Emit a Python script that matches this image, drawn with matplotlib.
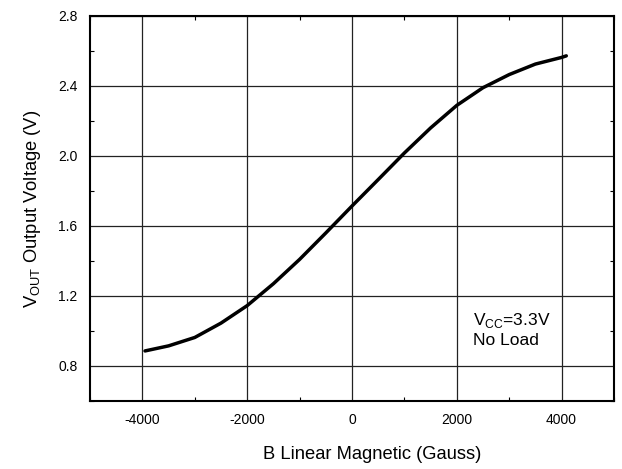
import numpy as np
import matplotlib
matplotlib.use('Agg')
import matplotlib.pyplot as plt
from matplotlib.ticker import MultipleLocator

plt.rcParams['font.family'] = ['Liberation Sans', 'DejaVu Sans']
plt.rcParams['mathtext.fontset'] = 'custom'
plt.rcParams['mathtext.rm'] = 'Liberation Sans'
plt.rcParams['axes.unicode_minus'] = False

# valores
b_gauss = [-3950, -3500, -3000, -2500, -2000, -1500, -1000, -500, 0,
           500, 1000, 1500, 2000, 2500, 3000, 3500, 4000, 4090]
v_out = [0.886, 0.915, 0.963, 1.045, 1.145, 1.27, 1.409, 1.56, 1.714,
         1.865, 2.017, 2.16, 2.289, 2.39, 2.465, 2.525, 2.563, 2.572]

x_ticks = [-4000, -2000, 0, 2000, 4000]
y_ticks = [0.8, 1.2, 1.6, 2.0, 2.4, 2.8]

fig = plt.figure(figsize=(6.22, 4.69), dpi=100)
ax = fig.add_axes([0.1447, 0.145, 0.8424, 0.821])

ax.plot(b_gauss, v_out, color='black', linewidth=2.5, solid_capstyle='round',
        solid_joinstyle='round')

ax.set_xlim(-5000, 5000)
ax.set_ylim(0.6, 2.8)
ax.set_xticks(x_ticks)
ax.set_yticks(y_ticks)
ax.set_yticklabels(['0.8', '1.2', '1.6', '2.0', '2.4', '2.8'])
ax.xaxis.set_minor_locator(MultipleLocator(1000))
ax.yaxis.set_minor_locator(MultipleLocator(0.2))

ax.grid(True, which='major', color='#222222', linewidth=0.9)
ax.tick_params(which='major', length=0, labelsize=10, pad=9)
ax.tick_params(which='minor', direction='in', length=3, width=0.8,
               top=True, right=True)
for s in ax.spines.values():
    s.set_linewidth(1.5)

ax.set_xlabel('B Linear Magnetic (Gauss)', fontsize=13.2)
ax.xaxis.set_label_coords(0.538, -0.117)
ax.set_ylabel(r'V$_{\mathrm{OUT}}$ Output Voltage (V)', fontsize=13.2, labelpad=11)

ax.text(2300, 0.905, r'V$_{\mathrm{CC}}$=3.3V' + '\nNo Load', fontsize=12.5,
        linespacing=1.25, va='bottom', ha='left')

fig.savefig('out.png', dpi=100)
